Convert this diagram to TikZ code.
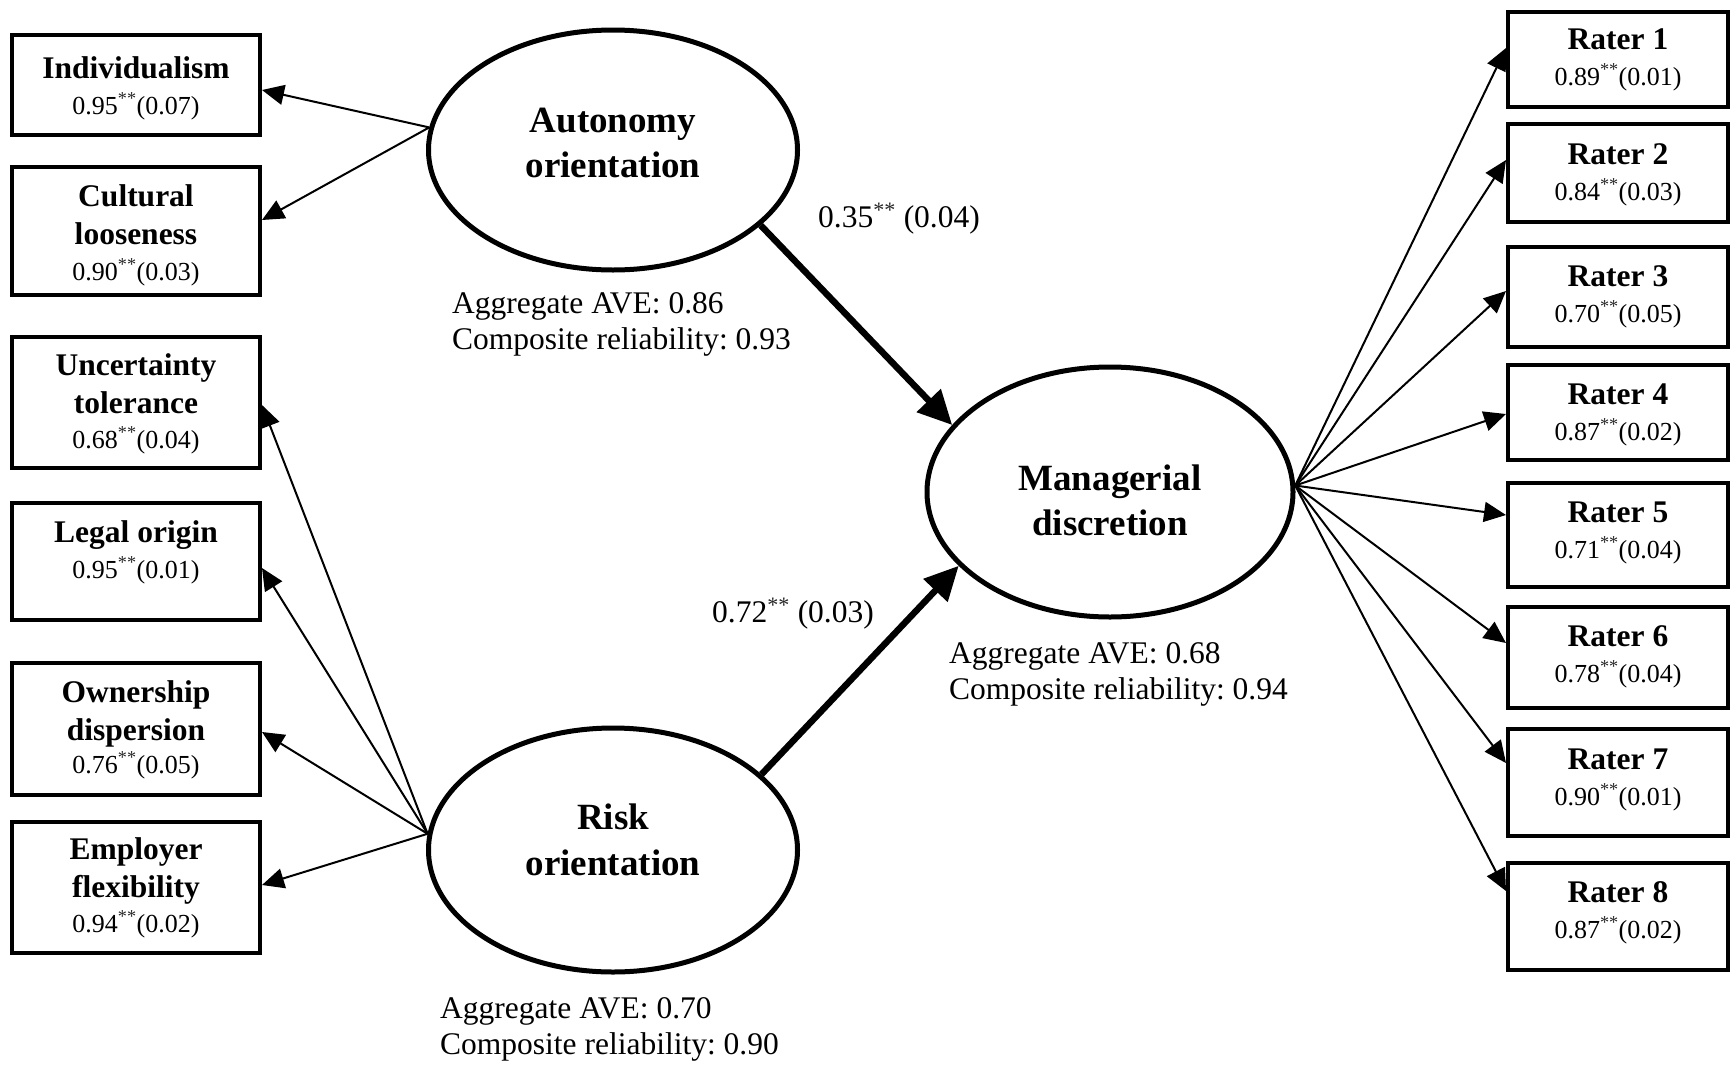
\documentclass[tikz,border=0pt]{standalone}
\usepackage{fontspec}
\setmainfont{Liberation Serif}
\usetikzlibrary{arrows.meta,calc,shapes.geometric}
\frenchspacing

\newcommand{\boxf}{\fontsize{31.5}{38}\selectfont\bfseries}
\newcommand{\ellf}{\fontsize{37}{45}\selectfont\bfseries}
\newcommand{\labf}{\fontsize{31.5}{37}\selectfont}
\newcommand{\numf}{\normalfont\fontsize{26}{31}\selectfont}
\newcommand{\sig}{\textsuperscript{\textcolor{black!85}{**}}}
\newcommand{\stk}[2]{\vbox{\baselineskip=#1\lineskiplimit=-100pt\lineskip=0pt\halign{\hfil##\hfil\cr#2\crcr}}}
\newcommand{\stkl}[2]{\vbox{\baselineskip=#1\lineskiplimit=-100pt\lineskip=0pt\halign{##\hfil\cr#2\crcr}}}

\tikzset{
  box/.style={draw, rectangle, line width=4pt, inner sep=0pt, font=\boxf, minimum width=248pt},
  rbox/.style={box, minimum width=220pt},
  lat/.style={draw, ellipse, line width=5pt, inner sep=0pt, font=\ellf},
  loadarr/.style={line width=2pt, -{Triangle[length=22pt,width=20pt]}},
  big/.style={line width=6.5pt, -{Triangle[length=34pt,width=32pt]}},
  lbl/.style={anchor=base west, inner sep=0pt, font=\labf}
}

\begin{document}
\begin{tikzpicture}[x=1pt,y=-1pt]
\fill[white] (0,0) rectangle (1730,1066);
\useasboundingbox (0,0) rectangle (1730,1066);

% latent variables
\node[lat, minimum width=369pt, minimum height=240pt, text height=80pt, text depth=26pt] (ao) at (613,150)
  {\stk{45pt}{Autonomy\cr orientation\cr}};
\node[lat, minimum width=369pt, minimum height=244pt, text height=76pt, text depth=26pt] (ro) at (613,850)
  {\stk{46pt}{Risk\cr orientation\cr}};
\node[lat, minimum width=366pt, minimum height=250pt, text height=112pt, text depth=26pt] (md) at (1110,492)
  {\stk{45pt}{Managerial\cr discretion\cr}};

% left indicators
\node[box, text height=79pt, text depth=21pt] (ind) at (136,85)
  {\stk{38pt}{Individualism\cr\noalign{\kern-2pt}\numf 0.95\sig(0.07)\cr}};
\node[box, text height=113pt, text depth=15pt] (cul) at (136,231)
  {\stk{38pt}{Cultural\cr looseness\cr\noalign{\kern-2pt}\numf 0.90\sig(0.03)\cr}};
\node[box, text height=111pt, text depth=20pt] (unc) at (136,402.5)
  {\stk{38pt}{Uncertainty\cr tolerance\cr\noalign{\kern-3pt}\numf 0.68\sig(0.04)\cr}};
\node[box, text height=75pt, text depth=42pt] (leg) at (136,561.5)
  {\stk{38pt}{Legal origin\cr\noalign{\kern-2pt}\numf 0.95\sig(0.01)\cr}};
\node[box, text height=110pt, text depth=22pt] (own) at (136,729)
  {\stk{38pt}{Ownership\cr dispersion\cr\noalign{\kern-5pt}\numf 0.76\sig(0.05)\cr}};
\node[box, text height=110pt, text depth=21pt] (emp) at (136,887.5)
  {\stk{38pt}{Employer\cr flexibility\cr\noalign{\kern-3pt}\numf 0.94\sig(0.02)\cr}};

% raters
\node[rbox, text height=73pt, text depth=22pt] (r1) at (1618,59.5)
  {\stk{36pt}{Rater 1\cr\numf 0.89\sig(0.01)\cr}};
\node[rbox, text height=76pt, text depth=22pt] (r2) at (1618,173)
  {\stk{36pt}{Rater 2\cr\numf 0.84\sig(0.03)\cr}};
\node[rbox, text height=75pt, text depth=25pt] (r3) at (1618,297)
  {\stk{36pt}{Rater 3\cr\numf 0.70\sig(0.05)\cr}};
\node[rbox, text height=75pt, text depth=20pt] (r4) at (1618,412.5)
  {\stk{36pt}{Rater 4\cr\numf 0.87\sig(0.02)\cr}};
\node[rbox, text height=75pt, text depth=29pt] (r5) at (1618,535)
  {\stk{36pt}{Rater 5\cr\numf 0.71\sig(0.04)\cr}};
\node[rbox, text height=75pt, text depth=26pt] (r6) at (1618,657.5)
  {\stk{36pt}{Rater 6\cr\numf 0.78\sig(0.04)\cr}};
\node[rbox, text height=76pt, text depth=31pt] (r7) at (1618,782.5)
  {\stk{36pt}{Rater 7\cr\numf 0.90\sig(0.01)\cr}};
\node[rbox, text height=75pt, text depth=32pt] (r8) at (1618,916.5)
  {\stk{36pt}{Rater 8\cr\numf 0.87\sig(0.02)\cr}};

% loadings (left)
\draw[loadarr] (ao.173) -- ($(ind.east)+(0,5)$);
\draw[loadarr] (ao.173) -- ($(cul.east)+(0,-11)$);
\draw[loadarr] (ro.175) -- ($(unc.east)+(0,2.5)$);
\draw[loadarr] (ro.175) -- ($(leg.east)+(0,6.5)$);
\draw[loadarr] (ro.175) -- ($(own.east)+(0,3)$);
\draw[loadarr] (ro.175) -- ($(emp.east)+(0,-2.5)$);

% loadings (right)
\draw[loadarr] (md.2) -- ($(r1.west)+(0,-11.5)$);
\draw[loadarr] (md.2) -- ($(r2.west)+(0,-13)$);
\draw[loadarr] (md.2) -- ($(r3.west)+(0,-6)$);
\draw[loadarr] (md.2) -- ($(r4.west)+(0,1.5)$);
\draw[loadarr] (md.2) -- ($(r5.west)+(0,-20)$);
\draw[loadarr] (md.2) -- ($(r6.west)+(0,-14.5)$);
\draw[loadarr] (md.2) -- ($(r7.west)+(0,-19.5)$);
\draw[loadarr] (md.2) -- ($(r8.west)+(0,-25.5)$);

% structural paths
\draw[big] (ao.333) -- (md.157);
\draw[big] (ro.27) -- (md.206);

% labels
\node[lbl] (p1) at (818,227) {0.35\sig{} (0.04)};
\node[lbl] (p2) at (712,622) {0.72\sig{} (0.03)};
\node[lbl] (aoq) at (452,349) {\stkl{36pt}{Aggregate AVE: 0.86\cr Composite reliability: 0.93\cr}};
\node[lbl] (mdq) at (949,699) {\stkl{36pt}{Aggregate AVE: 0.68\cr Composite reliability: 0.94\cr}};
\node[lbl] (roq) at (440,1054) {\stkl{36pt}{Aggregate AVE: 0.70\cr Composite reliability: 0.90\cr}};
\end{tikzpicture}
\end{document}
